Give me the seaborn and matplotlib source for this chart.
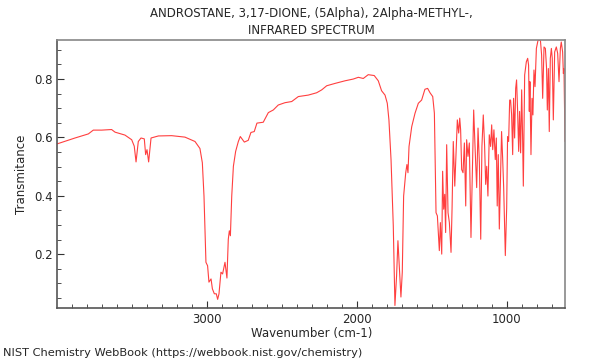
import numpy as np
import pandas as pd
import matplotlib
matplotlib.use("Agg")
import matplotlib.pyplot as plt
import seaborn as sns
from matplotlib.ticker import MultipleLocator

sns.set_style("white")
plt.rcParams['font.family'] = ['DejaVu Sans']

title = "ANDROSTANE, 3,17-DIONE, (5Alpha), 2Alpha-METHYL-,\nINFRARED SPECTRUM"
xlabel = "Wavenumber (cm-1)"
ylabel = "Transmitance"
footer = "NIST Chemistry WebBook (https://webbook.nist.gov/chemistry)"

wavenumber = [
    3998, 3880, 3791, 3758, 3702, 3636, 3613, 3547, 3502, 3485, 3473, 3458, 3440, 3418, 3409,
    3400, 3389, 3373, 3324, 3236, 3147, 3080, 3047, 3031, 3020, 3007, 2996, 2987, 2973, 2964,
    2951, 2938, 2929, 2920, 2907, 2896, 2880, 2867, 2858, 2851, 2844, 2835, 2824, 2809, 2791,
    2778, 2762, 2751, 2725, 2707, 2685, 2667, 2625, 2591, 2558, 2525, 2480, 2435, 2391, 2325,
    2269, 2235, 2202, 2147, 2080, 2025, 1991, 1958, 1925, 1885, 1858, 1836, 1813, 1798, 1787,
    1773, 1758, 1747, 1736, 1727, 1718, 1707, 1698, 1689, 1675, 1667, 1660, 1653, 1635, 1613,
    1591, 1569, 1547, 1529, 1513, 1495, 1484, 1473, 1464, 1451, 1444, 1435, 1429, 1422, 1415,
    1409, 1402, 1393, 1384, 1373, 1366, 1358, 1348, 1340, 1331, 1322, 1315, 1309, 1302, 1293,
    1284, 1275, 1269, 1260, 1251, 1240, 1222, 1213, 1202, 1193, 1184, 1175, 1167, 1158, 1149,
    1142, 1135, 1127, 1118, 1109, 1102, 1095, 1087, 1078, 1071, 1065, 1058, 1051, 1042, 1036,
    1029, 1022, 1011, 1002, 996, 989, 982, 976, 969, 962, 956, 949, 942, 936, 929,
    922, 916, 909, 902, 896, 891, 882, 871, 862, 856, 851, 847, 840, 833, 827,
    820, 813, 804, 793, 777, 769, 762, 753, 744, 736, 731, 724, 718, 711, 704,
    698, 691, 682, 671, 662, 653, 644, 638, 629, 624, 620, 613,
]
transmittance = [
    0.578, 0.598, 0.612, 0.625, 0.625, 0.627, 0.618, 0.608, 0.592, 0.570, 0.516, 0.586, 0.598, 0.595, 0.541,
    0.558, 0.516, 0.598, 0.605, 0.606, 0.601, 0.586, 0.562, 0.513, 0.399, 0.172, 0.160, 0.104, 0.115, 0.081,
    0.064, 0.064, 0.045, 0.064, 0.138, 0.132, 0.172, 0.118, 0.251, 0.280, 0.263, 0.399, 0.501, 0.552, 0.586,
    0.603, 0.592, 0.584, 0.590, 0.617, 0.620, 0.649, 0.652, 0.685, 0.694, 0.711, 0.719, 0.723, 0.740, 0.745,
    0.753, 0.763, 0.777, 0.785, 0.794, 0.800, 0.806, 0.802, 0.815, 0.812, 0.794, 0.760, 0.745, 0.717, 0.660,
    0.524, 0.297, 0.024, 0.126, 0.246, 0.160, 0.053, 0.138, 0.399, 0.479, 0.507, 0.479, 0.569, 0.637, 0.683,
    0.717, 0.728, 0.765, 0.768, 0.753, 0.740, 0.683, 0.342, 0.331, 0.212, 0.308, 0.200, 0.484, 0.354, 0.405,
    0.274, 0.575, 0.342, 0.308, 0.206, 0.359, 0.586, 0.433, 0.541, 0.660, 0.615, 0.666, 0.626, 0.490, 0.479,
    0.581, 0.365, 0.592, 0.535, 0.581, 0.257, 0.694, 0.569, 0.428, 0.632, 0.513, 0.251, 0.569, 0.677, 0.569,
    0.439, 0.501, 0.399, 0.609, 0.569, 0.643, 0.558, 0.626, 0.524, 0.598, 0.365, 0.541, 0.286, 0.496, 0.620,
    0.530, 0.428, 0.195, 0.359, 0.603, 0.586, 0.728, 0.728, 0.677, 0.541, 0.734, 0.598, 0.768, 0.797, 0.689,
    0.552, 0.689, 0.547, 0.763, 0.609, 0.433, 0.814, 0.859, 0.871, 0.848, 0.689, 0.791, 0.541, 0.734, 0.677,
    0.831, 0.774, 0.905, 0.933, 0.933, 0.882, 0.734, 0.910, 0.905, 0.836, 0.694, 0.836, 0.620, 0.871, 0.905,
    0.871, 0.660, 0.893, 0.910, 0.888, 0.791, 0.905, 0.927, 0.893, 0.819, 0.836, 0.586,
]

df = pd.DataFrame({"wn": wavenumber, "T": transmittance})

fig = plt.figure(figsize=(6, 3.6), dpi=100)
ax = fig.add_axes([0.0955, 0.145, 0.8467, 0.744])
sns.lineplot(data=df, x="wn", y="T", sort=False, estimator=None, ax=ax,
             color="#ff2a2a", linewidth=0.8, alpha=0.9)

ax.set_xlim(3998, 611)
ax.set_ylim(0.016, 0.934)
ax.xaxis.set_major_locator(MultipleLocator(1000))
ax.xaxis.set_minor_locator(MultipleLocator(100))
ax.yaxis.set_major_locator(MultipleLocator(0.2))
ax.yaxis.set_minor_locator(MultipleLocator(0.05))
ax.tick_params(which="both", direction="in", top=False, right=False,
               left=True, bottom=True, labelsize=8.5, color="#333333")
ax.tick_params(which="major", length=5, width=0.8)
ax.tick_params(which="minor", length=3, width=0.6)
ax.yaxis.set_major_formatter(matplotlib.ticker.FuncFormatter(lambda v, p: f"{v:.1f}"))
for s in ax.spines.values():
    s.set_visible(True)
    s.set_color("#888888")
    s.set_linewidth(1.2)
ax.spines["left"].set_color("#555555")
ax.spines["bottom"].set_color("#555555")

ax.set_xlabel(xlabel, fontsize=8.5, labelpad=1)
ax.set_ylabel(ylabel, fontsize=8.5, labelpad=4)
ax.set_title(title, fontsize=8.5, pad=4, linespacing=1.4)
fig.text(0.005, 0.006, footer, fontsize=8.2, ha="left", va="bottom")

fig.savefig("out.png", dpi=100)
